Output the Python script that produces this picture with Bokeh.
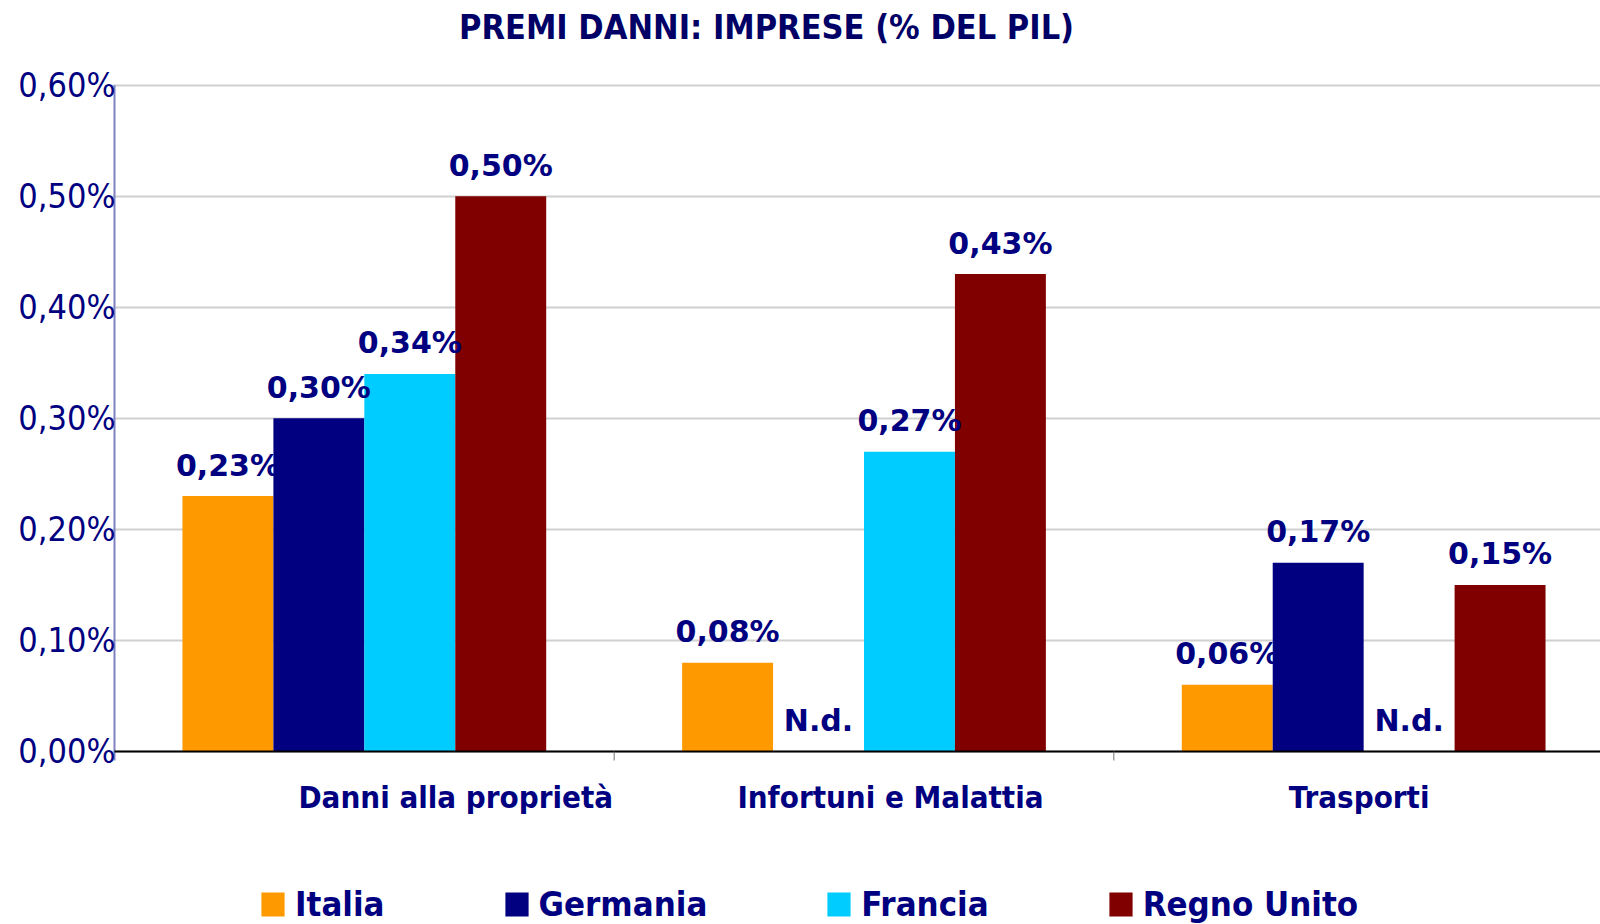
from bokeh.plotting import figure
from bokeh.models import (Range1d, FixedTicker, CustomJSTickFormatter, Legend,
                          LegendItem, ColumnDataSource)
from bokeh.core.properties import value
from bokeh.embed import file_html
from bokeh.resources import INLINE

# ---------------- data ----------------
title_text = "PREMI DANNI: IMPRESE (% DEL PIL)"
categories = ["Danni alla proprietà", "Infortuni e Malattia", "Trasporti"]
series_names = ["Italia", "Germania", "Francia", "Regno Unito"]
italia = [0.23, 0.08, 0.06]
germania = [0.30, None, 0.17]
francia = [0.34, 0.27, None]
regno_unito = [0.50, 0.43, 0.15]
y_ticks = [0.0, 0.1, 0.2, 0.3, 0.4, 0.5, 0.6]
missing_text = "N.d."

series_values = [italia, germania, francia, regno_unito]
colors = ["#FF9900", "#000080", "#00CCFF", "#800000"]

NAVY = "#000080"
COND = "'DejaVu Sans Condensed', 'Liberation Sans Narrow', 'DejaVu Sans', sans-serif"
WIDE = "DejaVu Sans"

# ---------------- layout helpers ----------------
bar_w = 0.182
n_cat = len(categories)
centers = [i + 0.5 for i in range(n_cat)]
label_x = [0.683, 1.553, 2.491]      # category label anchors
y_top_axis = y_ticks[-1]

# frame spans the whole canvas height; value axis runs 0..0.6 inside it
p = figure(width=1600, height=924,
           x_range=Range1d(-0.004, 2.974), y_range=Range1d(-0.1558, 0.6763),
           output_backend="svg", toolbar_location=None,
           min_border_left=112, min_border_right=0,
           min_border_top=0, min_border_bottom=0,
           outline_line_color=None)

p.xaxis.visible = False
p.xgrid.visible = False
p.ygrid.grid_line_color = "#d0d0d0"
p.ygrid.grid_line_width = 2

# y axis: labels only (line drawn separately so it stops at 0,60%)
p.yaxis.ticker = FixedTicker(ticks=y_ticks)
p.yaxis.formatter = CustomJSTickFormatter(code="return tick.toFixed(2).replace('.', ',') + '%';")
p.yaxis.axis_line_color = None
p.yaxis.major_tick_line_color = None
p.yaxis.minor_tick_line_color = None
p.yaxis.major_tick_out = 0
p.yaxis.major_tick_in = 0
p.yaxis.major_label_standoff = -3
p.yaxis.major_label_text_font = COND
p.yaxis.major_label_text_font_size = "34px"
p.yaxis.major_label_text_color = NAVY

# bars + labels
items = []
lx, ly, lt = [], [], []
for k, (name, vals, col) in enumerate(zip(series_names, series_values, colors)):
    off = (k - 1.5) * bar_w
    xs = [c + off for c in centers]
    tops = [float("nan") if v is None else v for v in vals]
    src = ColumnDataSource(dict(x=xs, top=tops))
    r = p.vbar(x="x", top="top", width=bar_w, bottom=0, source=src,
               fill_color=col, line_color=None)
    items.append(LegendItem(label=name, renderers=[r]))
    for x, v in zip(xs, vals):
        lx.append(x)
        ly.append(0 if v is None else v)
        lt.append(missing_text if v is None else ("%.2f" % v).replace(".", ",") + "%")

# value axis line and category baseline
p.segment(x0=[0], y0=[-0.008], x1=[0], y1=[y_top_axis], line_color="#8080C0", line_width=2)
p.segment(x0=[0], y0=[0], x1=[3], y1=[0], line_color="black", line_width=2)
# category separator ticks
p.segment(x0=[1, 2], y0=[0, 0], x1=[1, 2], y1=[-0.0081, -0.0081],
          line_color="#707070", line_width=1)

lab_src = ColumnDataSource(dict(x=lx, y=ly, text=lt))
p.text(x="x", y="y", text="text", source=lab_src, text_align="center",
       text_baseline="alphabetic", y_offset=-31,
       text_font=value(WIDE), text_font_style="bold", text_font_size="30px",
       text_color=NAVY)

# category labels
p.text(x=label_x, y=[0] * n_cat, text=categories, text_align="center",
       text_baseline="middle", y_offset=46,
       text_font=value(COND), text_font_style="bold", text_font_size="31px",
       text_color=NAVY)

# title
p.text(x=[1.305], y=[0.652], text=[title_text], text_align="center",
       text_baseline="alphabetic",
       text_font=value(COND), text_font_style="bold", text_font_size="34px",
       text_color="#000066")

legend = Legend(items=items, orientation="horizontal", location=(146, 0),
                glyph_width=29, glyph_height=30, label_standoff=8, spacing=117,
                padding=0, margin=0, border_line_color=None,
                background_fill_alpha=0,
                label_text_font=COND, label_text_font_style="bold",
                label_text_font_size="34.5px", label_text_color=NAVY)
p.add_layout(legend, "center")

open("out.html", "w").write(file_html(p, INLINE))
